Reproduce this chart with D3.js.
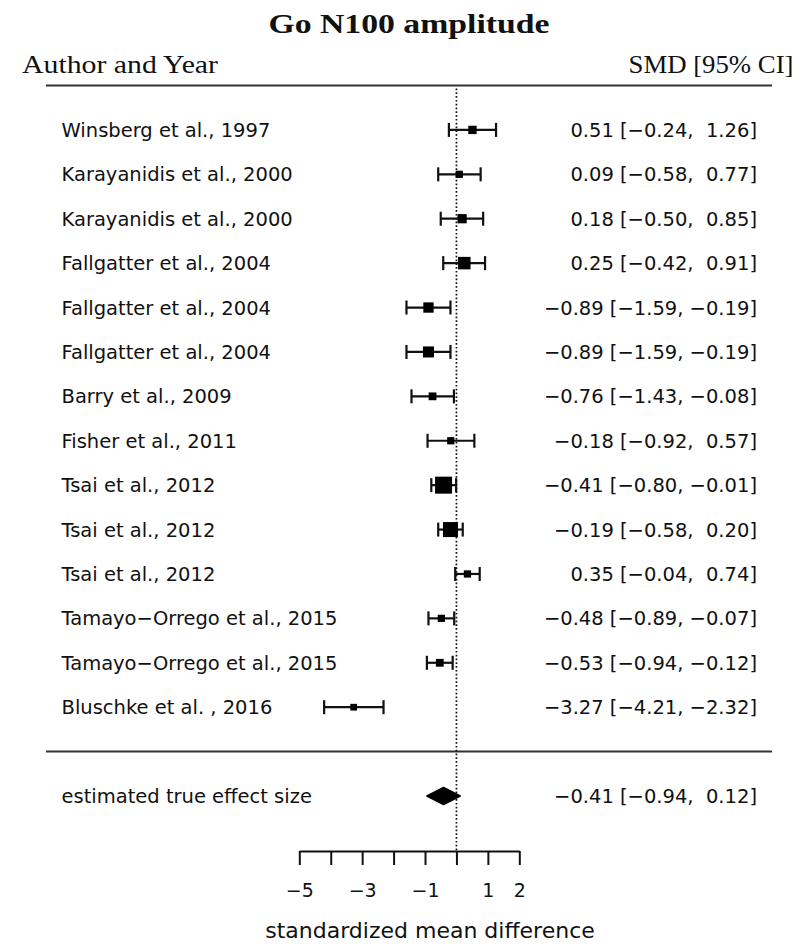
<!DOCTYPE html>
<html>
<head>
<meta charset="utf-8">
<script src="https://cdn.jsdelivr.net/npm/d3@7"></script>
<style>
  html, body { margin: 0; padding: 0; background: #fff; }
  svg text { white-space: pre; }
</style>
</head>
<body>
<svg id="chart" width="807" height="944"></svg>
<script>
// ---------- data ----------
const studies = [
  "Winsberg et al., 1997",
  "Karayanidis et al., 2000",
  "Karayanidis et al., 2000",
  "Fallgatter et al., 2004",
  "Fallgatter et al., 2004",
  "Fallgatter et al., 2004",
  "Barry et al., 2009",
  "Fisher et al., 2011",
  "Tsai et al., 2012",
  "Tsai et al., 2012",
  "Tsai et al., 2012",
  "Tamayo\u2212Orrego et al., 2015",
  "Tamayo\u2212Orrego et al., 2015",
  "Bluschke et al. , 2016"
];
const smd     = [0.51, 0.09, 0.18, 0.25, -0.89, -0.89, -0.76, -0.18, -0.41, -0.19, 0.35, -0.48, -0.53, -3.27];
const ciLower = [-0.24, -0.58, -0.50, -0.42, -1.59, -1.59, -1.43, -0.92, -0.80, -0.58, -0.04, -0.89, -0.94, -4.21];
const ciUpper = [1.26, 0.77, 0.85, 0.91, -0.19, -0.19, -0.08, 0.57, -0.01, 0.20, 0.74, -0.07, -0.12, -2.32];
const weights = [6.1, 5.5, 6.6, 8.4, 7.2, 7.6, 5.8, 5.5, 10.9, 9.8, 5.5, 5.5, 5.8, 5.2];

const summaryLabel = "estimated true effect size";
const summaryEst = -0.41, summaryLower = -0.94, summaryUpper = 0.12;

const tickValues = [-5, -4, -3, -2, -1, 0, 1, 2];
const tickLabels = ["\u22125", "", "\u22123", "", "\u22121", "", "1", "2"];

const title = "Go N100 amplitude";
const leftHeader = "Author and Year";
const rightHeader = "SMD [95% CI]";
const xLabel = "standardized mean difference";

// ---------- helpers ----------
const fmtNum = v => (v < 0 ? "\u2212" : "") + Math.abs(v).toFixed(2);
const padNum = v => (v < 0 ? "" : " ") + fmtNum(v);
const ciText = (e, l, u) => fmtNum(e) + " [" + padNum(l) + ", " + padNum(u) + "]";

// ---------- scales ----------
const svg = d3.select("#chart");
const k = studies.length;

const x = d3.scaleLinear().domain([-5, 2]).range([299.3, 519.3]);
// metafor-style row positions: studies at k..1, separator at 0, summary at -1, header line at k+1
const y = d3.scaleLinear().domain([k + 1, -1]).range([85.5, 796]);
const size = d3.scaleLinear().domain(d3.extent(weights)).range([6.7, 17]);

const axisY = 851;
const sansFont = "'DejaVu Sans', sans-serif";
const serifFont = "'Liberation Serif', 'Times New Roman', serif";
const ink = "#111";

// ---------- title & headers ----------
svg.append("text")
  .attr("x", 409).attr("y", 33)
  .attr("text-anchor", "middle")
  .attr("font-family", serifFont).attr("font-weight", "bold")
  .attr("font-size", 27).attr("fill", ink)
  .attr("textLength", 281).attr("lengthAdjust", "spacingAndGlyphs")
  .text(title);

svg.append("text")
  .attr("x", 22).attr("y", 72.5)
  .attr("font-family", serifFont).attr("font-size", 26).attr("fill", ink)
  .attr("textLength", 196).attr("lengthAdjust", "spacingAndGlyphs")
  .text(leftHeader);

svg.append("text")
  .attr("x", 628.5).attr("y", 72.5)
  .attr("font-family", serifFont).attr("font-size", 26).attr("fill", ink)
  .attr("textLength", 165).attr("lengthAdjust", "spacingAndGlyphs")
  .text(rightHeader);

// horizontal rules
[k + 1, 0].forEach(r => {
  svg.append("line")
    .attr("x1", 46).attr("x2", 772)
    .attr("y1", y(r)).attr("y2", y(r))
    .attr("stroke", "#333").attr("stroke-width", 2);
});

// reference line at 0
svg.append("line")
  .attr("x1", x(0)).attr("x2", x(0))
  .attr("y1", y(k + 1) + 3).attr("y2", axisY)
  .attr("stroke", ink).attr("stroke-width", 1.7)
  .attr("stroke-dasharray", "1.7,2.1");

// ---------- study rows ----------
const rows = studies.map((s, i) => ({
  label: s, est: smd[i], lo: ciLower[i], hi: ciUpper[i], w: weights[i], row: k - i
}));

const g = svg.append("g");
const rg = g.selectAll("g.row").data(rows).join("g").attr("class", "row");

rg.append("text")
  .attr("x", 61.5).attr("y", d => y(d.row))
  .attr("dy", "0.36em")
  .attr("font-family", sansFont).attr("font-size", 19.5).attr("fill", ink)
  .text(d => d.label);

rg.append("text")
  .attr("x", 757).attr("y", d => y(d.row))
  .attr("dy", "0.36em")
  .attr("text-anchor", "end")
  .attr("font-family", sansFont).attr("font-size", 19.5).attr("fill", ink)
  .attr("xml:space", "preserve")
  .text(d => ciText(d.est, d.lo, d.hi));

rg.append("line")
  .attr("x1", d => x(d.lo)).attr("x2", d => x(d.hi))
  .attr("y1", d => y(d.row)).attr("y2", d => y(d.row))
  .attr("stroke", ink).attr("stroke-width", 2.2);

rg.append("line")
  .attr("x1", d => x(d.lo)).attr("x2", d => x(d.lo))
  .attr("y1", d => y(d.row) - 7).attr("y2", d => y(d.row) + 7)
  .attr("stroke", ink).attr("stroke-width", 2.2);

rg.append("line")
  .attr("x1", d => x(d.hi)).attr("x2", d => x(d.hi))
  .attr("y1", d => y(d.row) - 7).attr("y2", d => y(d.row) + 7)
  .attr("stroke", ink).attr("stroke-width", 2.2);

rg.append("rect")
  .attr("x", d => x(d.est) - size(d.w) / 2)
  .attr("y", d => y(d.row) - size(d.w) / 2)
  .attr("width", d => size(d.w)).attr("height", d => size(d.w))
  .attr("fill", "#000");

// ---------- summary ----------
const sy = y(-1);
svg.append("text")
  .attr("x", 61.5).attr("y", sy).attr("dy", "0.36em")
  .attr("font-family", sansFont).attr("font-size", 19.5).attr("fill", ink)
  .text(summaryLabel);

svg.append("text")
  .attr("x", 757).attr("y", sy).attr("dy", "0.36em")
  .attr("text-anchor", "end")
  .attr("font-family", sansFont).attr("font-size", 19.5).attr("fill", ink)
  .attr("xml:space", "preserve")
  .text(ciText(summaryEst, summaryLower, summaryUpper));

svg.append("polygon")
  .attr("points", [
    [x(summaryLower), sy], [x(summaryEst), sy - 8.5],
    [x(summaryUpper), sy], [x(summaryEst), sy + 8.5]
  ].map(p => p.join(",")).join(" "))
  .attr("fill", "#000")
  .attr("stroke", "#000").attr("stroke-width", 1.5).attr("stroke-linejoin", "round");

// ---------- axis ----------
const axis = d3.axisBottom(x)
  .tickValues(tickValues)
  .tickSize(14)
  .tickSizeOuter(0)
  .tickPadding(19)
  .tickFormat((d, i) => tickLabels[i]);

const ag = svg.append("g").attr("transform", `translate(0,${axisY})`).call(axis);
ag.select(".domain").attr("stroke", ink).attr("stroke-width", 2);
ag.selectAll(".tick line").attr("stroke", ink).attr("stroke-width", 2);
ag.selectAll(".tick text")
  .attr("font-family", sansFont).attr("font-size", 19).attr("fill", ink);

svg.append("text")
  .attr("x", 430).attr("y", 938)
  .attr("text-anchor", "middle")
  .attr("font-family", sansFont).attr("font-size", 22).attr("fill", ink)
  .text(xLabel);
</script>
</body>
</html>
